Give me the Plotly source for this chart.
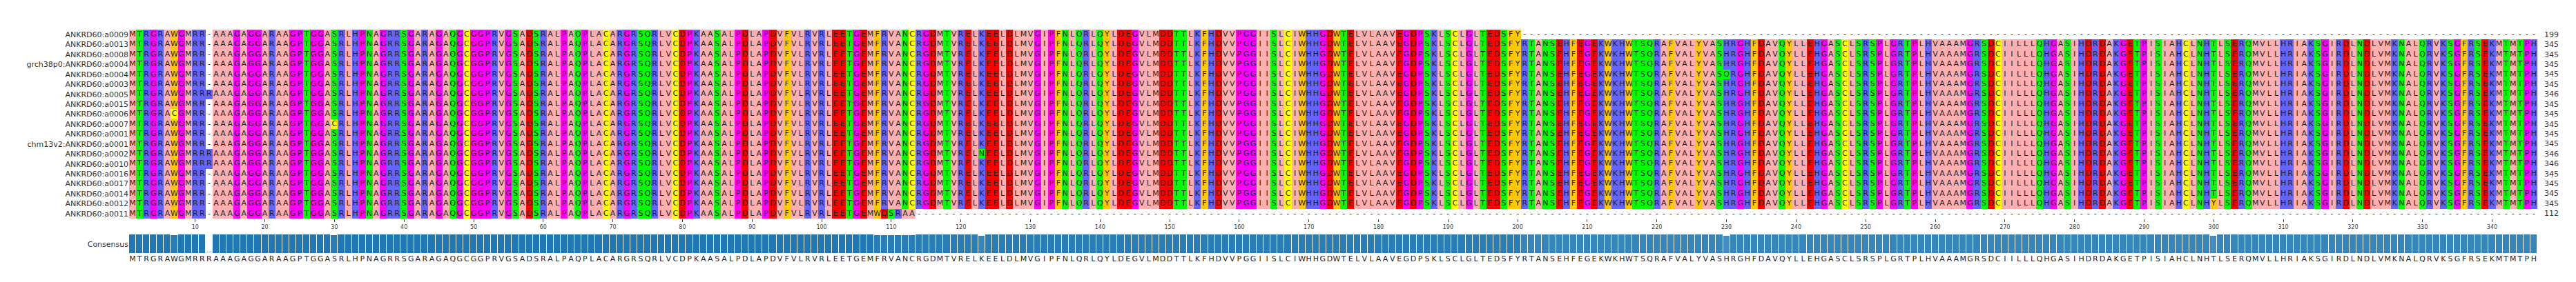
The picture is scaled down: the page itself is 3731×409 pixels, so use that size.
import plotly.graph_objects as go

W, H = 3731, 409

names = ["ANKRD60:a0009", "ANKRD60:a0013", "ANKRD60:a0008", "grch38p0:ANKRD60:a0004",
         "ANKRD60:a0004", "ANKRD60:a0003", "ANKRD60:a0005", "ANKRD60:a0015",
         "ANKRD60:a0006", "ANKRD60:a0007", "ANKRD60:a0001", "chm13v2:ANKRD60:a0001",
         "ANKRD60:a0002", "ANKRD60:a0010", "ANKRD60:a0016", "ANKRD60:a0017",
         "ANKRD60:a0014", "ANKRD60:a0012", "ANKRD60:a0011"]
lengths = [199, 345, 345, 345, 345, 345, 346, 345, 345, 345, 345, 345,
           346, 346, 345, 345, 345, 345, 112]

consensus = ("MTRGRAWGMRRRAAAGAGGARAAGPTGGASRLHPNAGRRSGARAGAQGCGGPRVGSADSRALPAQPLACARGRS"
             "QRLVCDPKAASALPDLAPDVFVLRVRLEETGEMFRVANCRGDMTVRELKEELDLMVGIPFNLQRLQYLDEGVL"
             "MDDTTLKFHDVVPGGIISLCIWHHGDWTELVLAAVEGDPSKLSCLGLTEDSFYRTANSEHFEGEKWKHWTSQR"
             "AFVALYVASHRGHFDAVQYLLEHGASCLSRSPLGRTPLHVAAAMGRSDCIILLLQHGASIHDRDAKGETPISIA"
             "HCLNHTLSERQMVLLHRIAKSGIRDLNDLVMKNALQRVKSGFRSEKMTMTPH")
# (row, column, residue) substitutions seen in the picture (1-based columns)
variants = [(8, 7, "C"), (9, 30, "C"), (12, 123, "N"), (17, 300, "Y"), (4, 230, "Q")]
tail_a0011 = "WDSRAA"

ncol = len(consensus)
rows = []
for i, n in enumerate(lengths):
    s = list(consensus)
    if n % 2 == 1 or n != 346:
        s[11] = "-"
    rows.append(s)
rows[0] = [c if k < 200 else "-" for k, c in enumerate(rows[0])]
r = rows[18]
for k in range(ncol):
    if 107 <= k < 113:
        r[k] = tail_a0011[k - 107]
    elif k >= 113:
        r[k] = "-"
for ri, col, aa in variants:
    rows[ri][col - 1] = aa

zappo = {"ILVAM": "#ffafaf", "FWY": "#ffc800", "KRH": "#6464ff", "DE": "#ff0000",
         "STNQ": "#00ff00", "GP": "#ff00ff", "C": "#ffff00"}
groups = list(zappo)
code = {aa: gi + 1 for gi, g in enumerate(groups) for aa in g}
colors = ["#ffffff"] + [zappo[g] for g in groups]
n = len(colors)
cscale = []
for i, c in enumerate(colors):
    cscale += [[i / n, c], [(i + 1) / n, c]]

z = [[code.get(a, 0) for a in s] for s in rows]
cols = list(range(1, ncol + 1))

fig = go.Figure()
fig.add_trace(go.Heatmap(z=z, x=cols, y=list(range(len(rows))), colorscale=cscale,
                         zmin=0, zmax=n, showscale=False, xgap=0, ygap=0,
                         hoverinfo="skip"))
tx, ty, tt = [], [], []
for i, s in enumerate(rows):
    for k, a in enumerate(s):
        tx.append(k + 1); ty.append(i); tt.append(a)
fig.add_trace(go.Scatter(x=tx, y=ty, text=tt, mode="text",
                         textfont=dict(family="DejaVu Sans", size=11, color="#222"),
                         hoverinfo="skip"))

# consensus bars
heights, bcolors = [], []
for k in range(ncol):
    colres = [s[k] for s in rows]
    m = sum(1 for a in colres if a == consensus[k])
    ng = sum(1 for a in colres if a != "-")
    h = m / ng if ng >= len(rows) / 2 else m / len(rows)
    f = m / len(rows)
    heights.append(h)
    g = 1 - f
    bcolors.append("rgb(%d,%d,%d)" % (31 + g * 224, 119 + g * 136, 180 + g * 75))
fig.add_trace(go.Bar(x=cols, y=heights, marker=dict(color=bcolors, line=dict(color="white", width=1)),
                     xaxis="x2", yaxis="y2", hoverinfo="skip"))
fig.add_trace(go.Scatter(x=cols, y=[0] * ncol, text=list(consensus), mode="text",
                         textfont=dict(family="DejaVu Sans", size=11, color="#222"),
                         xaxis="x2", yaxis="y3", hoverinfo="skip"))

x0, x1 = 179 / W, 3667 / W
fig.update_layout(
    width=W, height=H, margin=dict(l=0, r=0, t=0, b=0),
    plot_bgcolor="white", paper_bgcolor="white", showlegend=False, bargap=0,
    xaxis=dict(domain=[x0, x1], range=[0.5, ncol + 0.5], tickvals=list(range(10, ncol + 1, 10)),
               ticks="outside", ticklen=4, tickfont=dict(size=8, family="DejaVu Sans", color="#444"),
               showgrid=False, zeroline=False, anchor="y"),
    yaxis=dict(domain=[(H - 309) / H, (H - 35) / H], range=[len(rows) - 0.5, -0.5],
               tickvals=list(range(len(rows))), ticktext=names,
               tickfont=dict(size=11, family="DejaVu Sans", color="#333"),
               showgrid=False, zeroline=False, ticks=""),
    xaxis2=dict(domain=[x0, x1], range=[0.5, ncol + 0.5], anchor="y2", visible=False),
    yaxis2=dict(domain=[(H - 360) / H, (H - 332) / H], range=[0, 1], anchor="x2",
                tickvals=[0.5], ticktext=["Consensus"], showgrid=False, zeroline=False,
                tickfont=dict(size=11, family="DejaVu Sans", color="#333")),
    yaxis3=dict(domain=[(H - 376) / H, (H - 360) / H], range=[-1, 1], anchor="x2", visible=False),
)
# sequence lengths on the right
for i, L in enumerate(lengths):
    fig.add_annotation(x=1, xref="x domain", y=i, yref="y", text=str(L), showarrow=False,
                       xanchor="left", xshift=8, font=dict(size=11, family="DejaVu Sans", color="#333"))

fig.write_html("out.html")
